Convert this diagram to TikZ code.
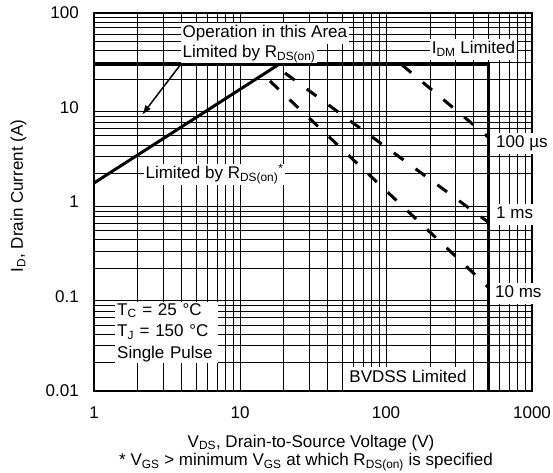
\documentclass[tikz,border=0pt]{standalone}
\usepackage{fontspec}
\setmainfont{Liberation Sans}
\usetikzlibrary{arrows.meta}
\newcommand{\dsub}[1]{\textsubscript{#1}}
\begin{document}
\begin{tikzpicture}[x=1pt,y=1pt,
  lbl/.style={font=\fontsize{17}{19}\selectfont, inner sep=1.5pt},
  tick/.style={font=\fontsize{17}{19}\selectfont, inner sep=0pt},
  box/.style={lbl, fill=white, text height=12.5pt, text depth=4pt, inner ysep=2pt},
  gridline/.style={line width=0.9pt},
  frame/.style={line width=2pt},
  limit/.style={line width=3pt},
  pulse/.style={line width=3pt, dash pattern=on 12pt off 15pt},
  pointer/.style={line width=1.5pt, -{Latex[length=10pt,width=7pt]}}
]
\useasboundingbox (0,0) rectangle (553,472);
% data scope: x = log10(V), y = log10(I)+2
\begin{scope}[shift={(94,81)}, x=146pt, y=94.5pt]
  \foreach \d in {0,1,2}{
    \foreach \m in {1,...,9}{
      \draw[gridline] ({\d+log10(\m)},0) -- ({\d+log10(\m)},4);
    }
  }
  \foreach \d in {0,1,2,3}{
    \foreach \m in {2,...,9}{
      \draw[gridline] (0,{\d+log10(\m)}) -- (3,{\d+log10(\m)});
    }
  }
  \draw[frame] (0,0) rectangle (3,4);
\end{scope}

% labels with white backgrounds
\node[box, anchor=west] (op2) at (181,418.5) {Limited by R\dsub{DS(on)}};
\node[box, anchor=west] (op1) at (181,438.5) {Operation in this Area};
\node[box] (idm) at (473.5,422.5) {I\dsub{DM} Limited};
\node[box] (rds) at (214.5,297.5) {Limited by R\dsub{DS(on)}\textsuperscript{*}};
\node[box, anchor=west, inner xsep=6pt] (p100) at (490,328.5) {100 µs};
\node[box, anchor=west, inner xsep=6pt] (p1) at (490,257.5) {1 ms};
\node[box, anchor=west, inner xsep=5pt] (p10) at (490,178.5) {10 ms};
\node[box, inner xsep=6pt, inner ysep=3pt] (bv) at (408,93.5) {BVDSS Limited};
\node[fill=white, anchor=north west, inner sep=0pt, minimum width=103pt,
      minimum height=61pt, text width=99pt, align=left,
      font=\fontsize{17}{21.5}\selectfont] (tc) at (115,170)
      {T\dsub{C} = 25 °C\\T\dsub{J} = 150 °C\\Single Pulse};

% limit curves
\begin{scope}[shift={(94,81)}, x=146pt, y=94.5pt]
  \coordinate (idmL) at (0,3.45);
  \coordinate (corner) at (2.699,3.45);
  \coordinate (bvB) at (2.699,0);
  \coordinate (rdsA) at (0,2.201);
  \coordinate (rdsB) at (1.26,3.45);
  \coordinate (a100) at (2.110,3.45);
  \coordinate (b100) at (2.699,2.688);
  \coordinate (a1) at (1.308,3.365);
  \coordinate (b1) at (2.699,1.788);
  \coordinate (a10) at (1.205,3.280);
  \coordinate (b10) at (2.699,1.101);
  \draw[limit] (idmL) -- (corner) -- (bvB);
  \draw[limit] (rdsA) -- (rdsB);
  \draw[pulse] (a100) -- (b100);
  \draw[pulse] (a1) -- (b1);
  \draw[pulse] (a10) -- (b10);
\end{scope}

\coordinate (arrtip) at (142,357);
\draw[pointer] (op2.south west) -- (arrtip);

% axis tick labels
\node[tick, anchor=east] (y100) at (79,459) {100};
\node[tick, anchor=east] (y10) at (79,364.5) {10};
\node[tick, anchor=east] (y1) at (79,270) {1};
\node[tick, anchor=east] (y01) at (79,175.5) {0.1};
\node[tick, anchor=east] (y001) at (79,81) {0.01};
\node[tick] (x1) at (94,59) {1};
\node[tick] (x10) at (240,59) {10};
\node[tick] (x100) at (386,59) {100};
\node[tick] (x1000) at (532,59) {1000};

% axis titles
\node[lbl] (xt) at (311,29) {V\dsub{DS}, Drain-to-Source Voltage (V)};
\node[lbl] (fn) at (306,10) {* V\dsub{GS} > minimum V\dsub{GS} at which R\dsub{DS(on)} is specified};
\node[lbl, rotate=90] (yt) at (18.5,276) {I\dsub{D}, Drain Current (A)};
\end{tikzpicture}
\end{document}
